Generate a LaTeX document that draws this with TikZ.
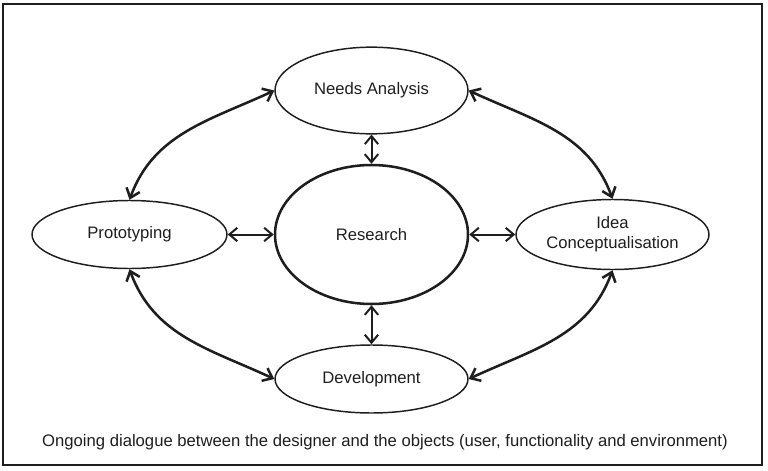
\documentclass[tikz,border=0pt]{standalone}
\usepackage{fontspec}
\setmainfont{Liberation Sans}
\usetikzlibrary{arrows.meta,shapes.geometric}
\definecolor{ink}{HTML}{1E1E1E}
\tikzset{
  lbl/.style={font=\fontsize{12.5}{15}\selectfont,text=ink},
  stage/.style={ellipse,draw=ink,line width=1.1pt,minimum width=144.75pt,minimum height=51pt,inner sep=0pt,align=center,lbl},
  core/.style={ellipse,draw=ink,line width=1.9pt,minimum width=144.75pt,minimum height=104.25pt,inner sep=0pt,lbl},
  link/.style={draw=ink,line width=1.5pt,{Straight Barb[length=6pt,width=10pt]}-{Straight Barb[length=6pt,width=10pt]}},
  arc/.style={draw=ink,line width=1.9pt,{Straight Barb[length=6.5pt,width=10.5pt]}-{Straight Barb[length=6.5pt,width=10.5pt]}}
}
\begin{document}
\begin{tikzpicture}[x=0.75pt,y=-0.75pt]
\useasboundingbox (0,0) rectangle (768,471);
\draw[ink,line width=1.5pt] (3,3.5) rectangle (762,465);
\node[stage,minimum height=65pt] (na) at (371.5,90.5) {Needs Analysis};
\node[core] (rs) at (371.5,234.5) {Research};
\node[stage] (dv) at (371.5,379) {Development};
\node[stage,minimum width=146.25pt] (pr) at (129.5,234.5) {Prototyping};
\node[stage,minimum height=52.5pt] (ic) at (612.5,234.5) {Idea\\Conceptualisation};
\node[lbl] (cap) at (385,442) {Ongoing dialogue between the designer and the objects (user, functionality and environment)};
\draw[link] (na) -- (rs);
\draw[link] (rs) -- (dv);
\draw[link] (pr) -- (rs);
\draw[link] (rs) -- (ic);
\draw[arc] (pr.north) to[out=70,in=205] (na.west);
\draw[arc] (na.east) to[out=-25,in=110] (ic.north);
\draw[arc] (pr.south) to[out=-70,in=155] (dv.west);
\draw[arc] (ic.south) to[out=-110,in=25] (dv.east);
\end{tikzpicture}
\end{document}
